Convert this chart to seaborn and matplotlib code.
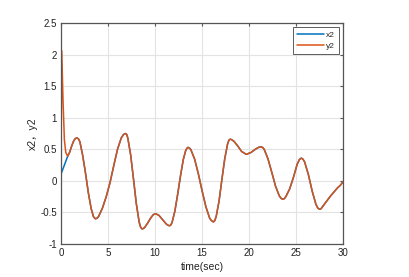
import matplotlib
matplotlib.use("Agg")
import matplotlib.pyplot as plt
import pandas as pd
import seaborn as sns

# time points (sec) and values
t = [0, 0.07, 0.2, 0.35, 0.5, 0.7, 0.9, 1.1, 1.3, 1.5, 1.7, 1.85,
     2.0, 2.3, 2.6, 2.9, 3.2, 3.45, 3.65, 3.85,
     4.0, 4.4, 4.8, 5.2, 5.6, 6.0, 6.4, 6.65, 6.85, 6.98,
     7.1, 7.4, 7.7, 8.0, 8.3, 8.45, 8.6, 8.75,
     8.9, 9.2, 9.5, 9.8, 10.05,
     10.4, 10.8, 11.2, 11.4, 11.55, 11.67,
     11.8, 12.1, 12.4, 12.7, 13.0, 13.25, 13.38, 13.5, 13.65,
     13.8, 14.2, 14.6, 15.0, 15.4, 15.8, 16.0, 16.2, 16.35,
     16.5, 16.8, 17.1, 17.4, 17.7, 17.85, 17.98, 18.15,
     18.4, 18.8, 19.2, 19.7,
     20.2, 20.7, 21.0, 21.26, 21.45,
     21.6, 22.0, 22.4, 22.8, 23.2, 23.4, 23.58, 23.75,
     23.9, 24.3, 24.7, 25.1, 25.35, 25.55, 25.72,
     25.9, 26.3, 26.7, 27.1, 27.3, 27.5, 27.65,
     27.8, 28.2, 28.6, 29.0, 29.4, 29.7, 30.0]

y2 = [0.55, 2.06, 1.3, 0.65, 0.45, 0.39, 0.45, 0.54, 0.62, 0.67, 0.68, 0.665,
      0.62, 0.40, 0.12, -0.19, -0.44, -0.57, -0.60, -0.59,
      -0.56, -0.43, -0.25, -0.03, 0.24, 0.50, 0.68, 0.735, 0.75, 0.735,
      0.675, 0.41, 0.03, -0.36, -0.65, -0.73, -0.76, -0.755,
      -0.735, -0.67, -0.595, -0.535, -0.52,
      -0.545, -0.615, -0.685, -0.705, -0.71, -0.698,
      -0.66, -0.48, -0.21, 0.08, 0.34, 0.48, 0.515, 0.53, 0.52,
      0.495, 0.345, 0.11, -0.16, -0.41, -0.59, -0.63, -0.65, -0.628,
      -0.56, -0.32, 0.02, 0.345, 0.58, 0.645, 0.66, 0.652,
      0.625, 0.55, 0.465, 0.42,
      0.45, 0.505, 0.53, 0.54, 0.527,
      0.50, 0.35, 0.14, -0.08, -0.235, -0.277, -0.29, -0.28,
      -0.25, -0.13, 0.05, 0.26, 0.34, 0.36, 0.345,
      0.30, 0.10, -0.16, -0.37, -0.43, -0.45, -0.44,
      -0.41, -0.33, -0.25, -0.18, -0.11, -0.07, -0.01]

# x2 starts low and joins y2 after ~0.7 s
x2 = [0.11, 0.14, 0.19, 0.25, 0.31, 0.39] + y2[6:]

df = pd.concat([
    pd.DataFrame({"time": t, "value": x2, "series": "x2"}),
    pd.DataFrame({"time": t, "value": y2, "series": "y2"}),
])

sns.set_theme(style="white")
plt.rcParams["font.family"] = ["Liberation Sans", "Noto Sans CJK SC"]

fig = plt.figure(figsize=(4.1, 2.77), dpi=100)
ax = fig.add_axes([0.149, 0.119, 0.688, 0.798])

sns.lineplot(data=df, x="time", y="value", hue="series",
             palette={"x2": "#0072BD", "y2": "#D95319"},
             linewidth=1.1, ax=ax, sort=False, estimator=None)

ax.set_xlim(0, 30)
ax.set_ylim(-1, 2.5)
ax.set_xticks([0, 5, 10, 15, 20, 25, 30])
ax.set_yticks([-1, -0.5, 0, 0.5, 1, 1.5, 2, 2.5])
ax.set_yticklabels(["-1", "-0.5", "0", "0.5", "1", "1.5", "2", "2.5"])
ax.grid(True, color="#e3e3e3", linewidth=0.8)
ax.set_axisbelow(True)

for side in ["top", "right", "left", "bottom"]:
    ax.spines[side].set_visible(True)
    ax.spines[side].set_color("#555555")
    ax.spines[side].set_linewidth(0.9)

ax.tick_params(direction="in", length=2.5, width=0.8, color="#555555",
               labelsize=7, top=True, right=True, pad=3, labelcolor="#222222")

ax.set_xlabel("time(sec)", fontsize=7.5, labelpad=2.5, color="#222222")
ax.set_ylabel("x2，y2", fontsize=7.5, labelpad=2, color="#222222")

leg = ax.legend(loc="upper right", fontsize=6, frameon=True, fancybox=False,
                borderaxespad=0.5, handlelength=3.2, handletextpad=0.3,
                borderpad=0.45, labelspacing=0.45)
leg.get_frame().set_edgecolor("#333333")
leg.get_frame().set_linewidth(0.7)

fig.savefig("out.png", dpi=100)
